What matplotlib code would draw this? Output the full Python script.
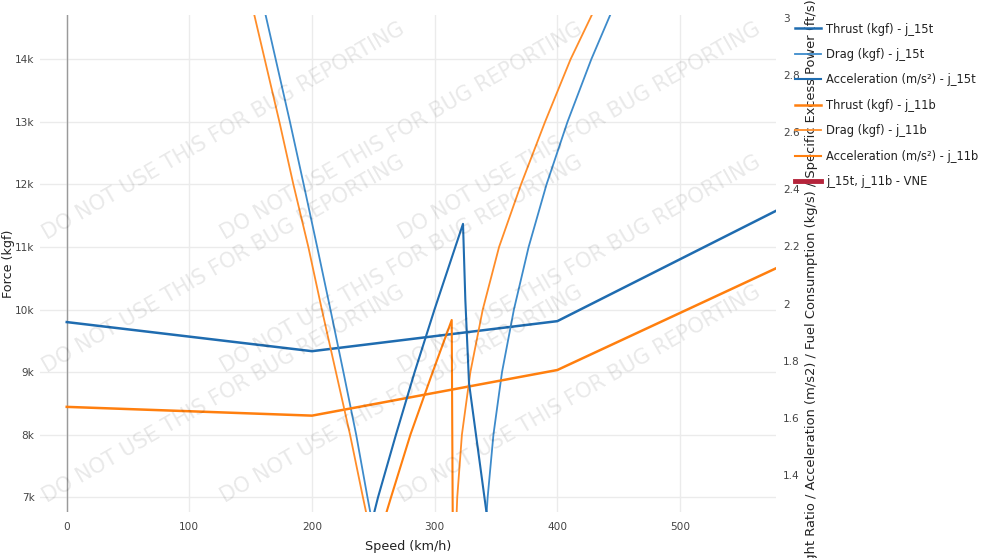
import numpy as np
import matplotlib
matplotlib.use("Agg")
import matplotlib.pyplot as plt

nan = np.nan

# thrust (kgf) vs speed (km/h)
thrust_speed = [0, 200, 400, 580]
thrust_15t = [9800, 9335, 9815, 11595]
thrust_11b = [8445, 8305, 9034, 10675]

# drag (kgf), the bottom of the curve is off the visible range
drag_15t_speed = [162.2, 182.0, 193.2, 204.2, 215.0, 225.6, 236.0, 245.2, 247.7, nan,
                  342.3, 343.2, 347.9, 354.9, 364.6, 376.6, 391.2, 408.3, 427.7, 443.0]
drag_15t = [14703, 13000, 12000, 11000, 10000, 9000, 8000, 7000, 6740, nan,
            6740, 7000, 8000, 9000, 10000, 11000, 12000, 13000, 14000, 14703]
drag_11b_speed = [153.0, 173.4, 184.8, 197.0, 208.0, 219.5, 231.0, 241.5, 244.3, nan,
                  317.9, 318.4, 322.2, 329.1, 339.2, 352.5, 370.4, 390.0, 410.8, 428.0]
drag_11b = [14703, 13000, 12000, 11000, 10000, 9000, 8000, 7000, 6740, nan,
            6740, 7000, 8000, 9000, 10000, 11000, 12000, 13000, 14000, 14703]

# acceleration (m/s2), right axis
acc_15t_speed = [250.4, 253.8, 268.5, 283.6, 299.9, 323.1, 325.0, 328.0, 342.4]
acc_15t = [1.265, 1.323, 1.543, 1.760, 1.980, 2.279, 2.013, 1.722, 1.265]
acc_11b_speed = [260.3, 264.4, 280.3, 298.3, 313.9, 314.3, 314.7]
acc_11b = [1.265, 1.323, 1.543, 1.760, 1.943, 1.593, 1.265]

vne_speed = []
vne_force = []

x_ticks = [0, 100, 200, 300, 400, 500]
y_ticks = [7000, 8000, 9000, 10000, 11000, 12000, 13000, 14000]
y_labels = ["7k", "8k", "9k", "10k", "11k", "12k", "13k", "14k"]
y2_ticks = [1.4, 1.6, 1.8, 2.0, 2.2, 2.4, 2.6, 2.8, 3.0]
y2_labels = ["1.4", "1.6", "1.8", "2", "2.2", "2.4", "2.6", "2.8", "3"]

blue_dark = "#1f6cb0"
blue_light = "#3d8bcb"
orange = "#ff7f0e"
orange_light = "#ff8d29"
grey_text = "#444444"

W, H = 999, 558
fig = plt.figure(figsize=(W / 100, H / 100), dpi=100)
left, right, top, bottom = 40, 776, 15.3, 512.3
ax = fig.add_axes([left / W, 1 - bottom / H, (right - left) / W, (bottom - top) / H])
ax2 = ax.twinx()

ax.set_xlim(-21.8, 578.3)
ax.set_ylim(6760, 14703)
ax2.set_ylim(1.2706, 3.008)

for a in (ax, ax2):
    for s in a.spines.values():
        s.set_visible(False)
    a.tick_params(length=0, labelsize=7.6, colors=grey_text)

ax.set_xticks(x_ticks)
ax.set_yticks(y_ticks)
ax.set_yticklabels(y_labels)
ax.tick_params(axis="x", pad=7)
ax.tick_params(axis="y", pad=4)
ax.grid(True, color="#ebebeb", linewidth=1)
ax.set_axisbelow(True)
ax.axvline(0, color="#9a9a9a", linewidth=1, zorder=1)

ax2.set_yticks(y2_ticks)
ax2.set_yticklabels(y2_labels)
ax2.tick_params(axis="y", pad=5)

# watermark
wm = "DO NOT USE THIS FOR BUG REPORTING"
for x0 in [47, 225, 403]:
    for y0 in [240, 373, 503]:
        fig.text(x0 / W, 1 - y0 / H, wm, rotation=30, rotation_mode="anchor",
                 ha="left", va="baseline", fontsize=15, color="#000000", alpha=0.09,
                 zorder=0)

l1, = ax.plot(thrust_speed, thrust_15t, color=blue_dark, lw=1.8, label="Thrust (kgf) - j_15t")
l2, = ax.plot(drag_15t_speed, drag_15t, color=blue_light, lw=1.3, label="Drag (kgf) - j_15t")
l4, = ax.plot(thrust_speed, thrust_11b, color=orange, lw=1.8, label="Thrust (kgf) - j_11b")
l5, = ax.plot(drag_11b_speed, drag_11b, color=orange_light, lw=1.3, label="Drag (kgf) - j_11b")
l3, = ax2.plot(acc_15t_speed, acc_15t, color=blue_dark, lw=1.5, label="Acceleration (m/s²) - j_15t")
l6, = ax2.plot(acc_11b_speed, acc_11b, color=orange, lw=1.5, label="Acceleration (m/s²) - j_11b")
l7, = ax.plot(vne_speed, vne_force, color="#b5243b", lw=3.5, label="j_15t, j_11b - VNE")

ax.set_xlabel("Speed (km/h)", fontsize=9.2, color="#222222", labelpad=6)
ax.set_ylabel("Force (kgf)", fontsize=9.2, color="#222222")
ax.yaxis.set_label_coords((15 - left) / (right - left), 0.5)

fig.text(812 / W, 1.002, "Thrust to Weight Ratio / Acceleration (m/s2) / Fuel Consumption (kg/s) / Specific Excess Power (ft/s)",
         rotation=90, rotation_mode="anchor", ha="right", va="center",
         fontsize=9.4, color="#222222")

fig.legend(handles=[l1, l2, l3, l4, l5, l6, l7], loc="upper left",
           bbox_to_anchor=(795 / W, 1 - 22.5 / H), frameon=False,
           fontsize=8.3, handlelength=2.26, handletextpad=0.45,
           labelspacing=1.08, borderpad=0, borderaxespad=0, labelcolor="#222222")

fig.savefig("out.png", dpi=100)
